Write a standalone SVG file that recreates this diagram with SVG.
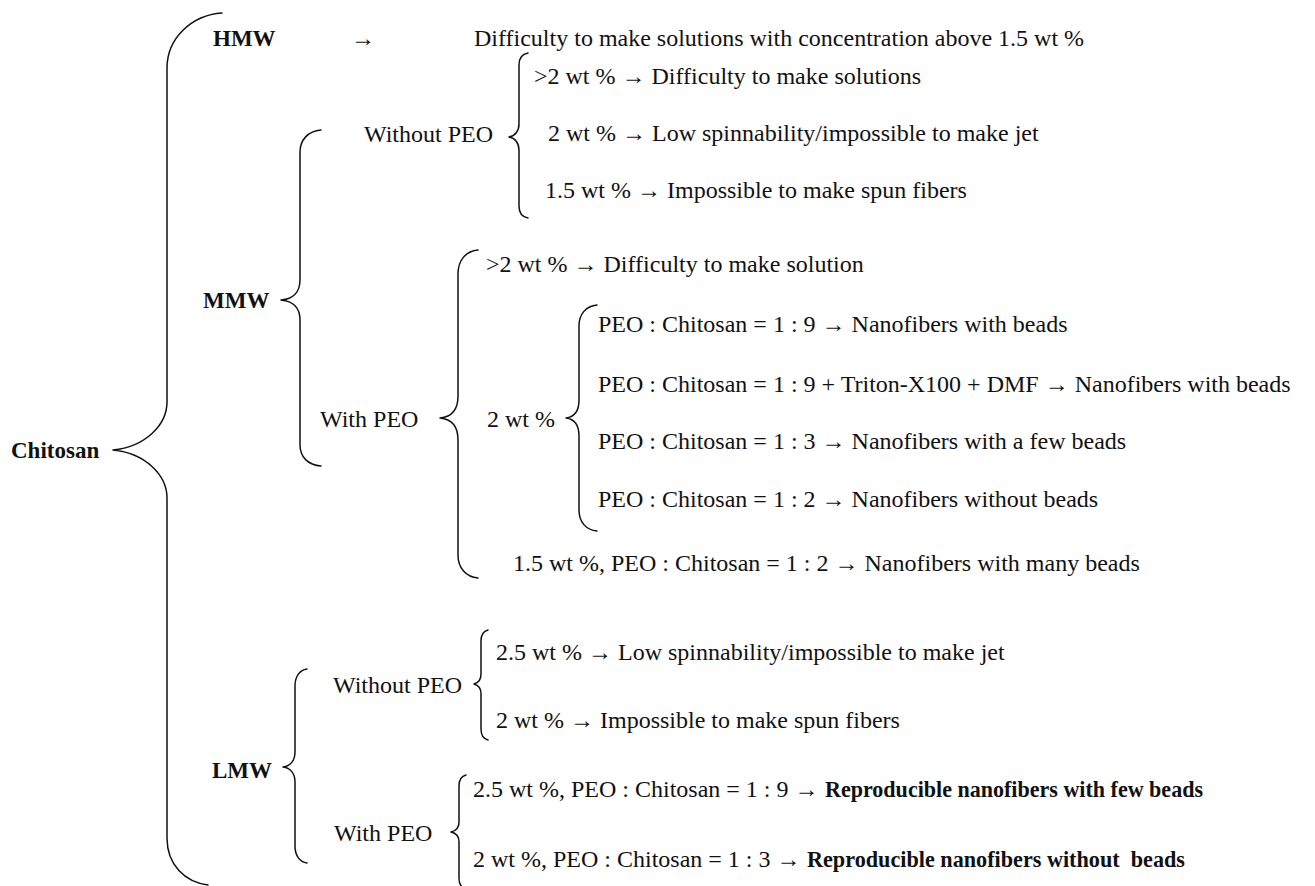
<svg xmlns="http://www.w3.org/2000/svg" width="1315" height="886" viewBox="0 0 1315 886">
<style>
  text { font-family: "Liberation Serif", "Times New Roman", serif; font-size: 24px; fill: #111; }
  .b { font-weight: bold; font-size: 23px; }
  .bb { font-weight: bold; }
  .brace { fill: none; stroke: #111; stroke-width: 1.5; stroke-linecap: round; stroke-linejoin: round; }
</style>
<rect width="1315" height="886" fill="#fff"/>
<g id="connectors">
  <path class="brace" d="M222,13 C192,15 167,38 167,68 L167,402 C167,425 145,447 113,450 C145,453 167,475 167,498 L167,838 C167,865 185,882 208,885"/>
  <path class="brace" d="M321,130 C308,131 300,140 300,152 L300,280 C300,292 293,299 281,300 C293,301 300,308 300,320 L300,445 C300,457 308,465 321,466"/>
  <path class="brace" d="M528,53 C522,54 519,58 519,65 L519,124 C519,131 515,136 509,137 C515,138 519,143 519,150 L519,206 C519,213 522,217 528,218"/>
  <path class="brace" d="M478,250 C466,251 458,260 458,274 L458,396 C458,410 451,417 440,418 C451,419 458,426 458,440 L458,555 C458,568 466,577 478,578"/>
  <path class="brace" d="M597,305 C586,306 579,314 579,326 L579,400 C579,411 574,417 566,418 C574,419 579,425 579,436 L579,510 C579,522 586,530 597,531"/>
  <path class="brace" d="M307,669 C300,670 295,676 295,686 L295,752 C295,761 290,766 283,767 C290,768 295,773 295,782 L295,846 C295,856 300,862 307,863"/>
  <path class="brace" d="M488,630 C484,631 481,635 481,641 L481,674 C481,680 478,683 474,684 C478,685 481,688 481,694 L481,729 C481,735 484,739 488,740"/>
  <path class="brace" d="M466,775 C462,776 459,780 459,786 L459,822 C459,828 456,831 451,832 C456,833 459,836 459,842 L459,878 C459,884 462,888 466,889"/>
</g>
<g id="chitosan"><text class="b" x="11" y="458">Chitosan</text></g>
<g id="hmw">
  <text class="b" x="213" y="46">HMW</text>
  <text x="351" y="46">→</text>
</g>
<g id="hmw-result"><text x="474" y="46">Difficulty to make solutions with concentration above 1.5 wt %</text></g>
<g id="mmw"><text class="b" x="203" y="308">MMW</text></g>
<g id="mmw-without-peo"><text x="364" y="142">Without PEO</text></g>
<g id="mmw-wo-1"><text x="534" y="84">&gt;2 wt % → Difficulty to make solutions</text></g>
<g id="mmw-wo-2"><text x="548" y="141">2 wt % → Low spinnability/impossible to make jet</text></g>
<g id="mmw-wo-3"><text x="545" y="198">1.5 wt % → Impossible to make spun fibers</text></g>
<g id="mmw-with-peo"><text x="320" y="427">With PEO</text></g>
<g id="mmw-w-1"><text x="486" y="272">&gt;2 wt % → Difficulty to make solution</text></g>
<g id="mmw-w-2"><text x="487" y="427">2 wt %</text></g>
<g id="mmw-w-2a"><text x="598" y="332">PEO : Chitosan = 1 : 9 → Nanofibers with beads</text></g>
<g id="mmw-w-2b"><text x="598" y="392">PEO : Chitosan = 1 : 9 + Triton-X100 + DMF → Nanofibers with beads</text></g>
<g id="mmw-w-2c"><text x="598" y="449">PEO : Chitosan = 1 : 3 → Nanofibers with a few beads</text></g>
<g id="mmw-w-2d"><text x="598" y="507">PEO : Chitosan = 1 : 2 → Nanofibers without beads</text></g>
<g id="mmw-w-3"><text x="513" y="571">1.5 wt %, PEO : Chitosan = 1 : 2 → Nanofibers with many beads</text></g>
<g id="lmw"><text class="b" x="212" y="778">LMW</text></g>
<g id="lmw-without-peo"><text x="333" y="693">Without PEO</text></g>
<g id="lmw-wo-1"><text x="496" y="660">2.5 wt % → Low spinnability/impossible to make jet</text></g>
<g id="lmw-wo-2"><text x="496" y="728">2 wt % → Impossible to make spun fibers</text></g>
<g id="lmw-with-peo"><text x="334" y="841">With PEO</text></g>
<g id="lmw-w-1">
  <text x="473" y="797">2.5 wt %, PEO : Chitosan = 1 : 9 →</text>
  <text class="bb" x="825" y="797" textLength="378" lengthAdjust="spacingAndGlyphs">Reproducible nanofibers with few beads</text>
</g>
<g id="lmw-w-2">
  <text x="473" y="867">2 wt %, PEO : Chitosan = 1 : 3 →</text>
  <text class="bb" x="807" y="867" textLength="378" lengthAdjust="spacingAndGlyphs" xml:space="preserve">Reproducible nanofibers without  beads</text>
</g>
</svg>
